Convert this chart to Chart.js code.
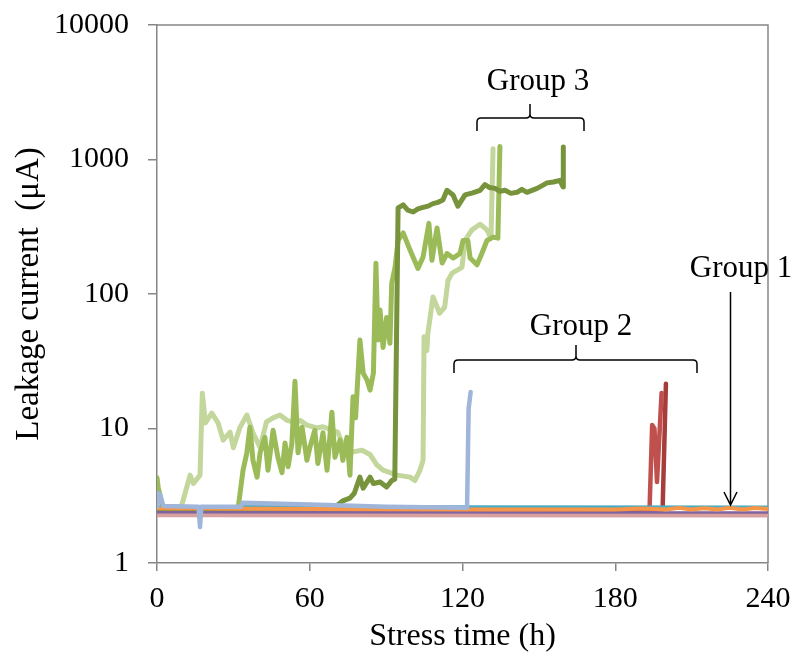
<!DOCTYPE html>
<html>
<head>
<meta charset="utf-8">
<title>Leakage current vs stress time</title>
<script src="https://cdn.jsdelivr.net/npm/chart.js@4.4.1/dist/chart.umd.min.js"></script>
<style>
  html, body { margin: 0; padding: 0; background: #fff; }
  #wrap { width: 798px; height: 664px; }
</style>
</head>
<body>
<div id="wrap"><canvas id="leakage"></canvas></div>
<script>
// stress time (h) and leakage current (uA) for each device
const lightGreenHours = [0, 2, 5, 9, 10.3, 13, 14.3, 16.9, 17.8, 19, 21.5, 24, 26, 28.7, 30, 32.6, 35.3, 37.7, 40.5, 43, 45.6, 48.3, 51, 53.4, 56.2, 58.9, 62.8, 65.2, 68.7, 71, 73.8, 77, 80.5, 83.7, 86.4, 88.8, 94.3, 99.4, 101.3, 103.3, 104.5, 104.9, 106, 106.4, 108.4, 111, 113, 114.3, 115.9, 117.8, 119.8, 121, 123.7, 126.9, 129.6, 131.2, 132]
const lightGreenValues = [2.6, 2.45, 2.4, 2.45, 2.94, 4.5, 3.9, 4.5, 18.3, 11, 13, 11, 8.2, 9.4, 7.2, 10.2, 12.6, 9.3, 7.2, 11.2, 12, 12.6, 11.5, 11.2, 11.5, 10.6, 10.1, 10.3, 9.7, 9.4, 6.9, 6.7, 6.9, 6.4, 5.35, 4.9, 4.5, 4.35, 4.1, 4.9, 5.8, 48, 38, 51, 95, 72, 80, 126, 143, 150, 158, 250, 300, 330, 300, 260, 1200]

const midGreenHours = [0, 0.5, 2.5, 31.8, 33.8, 35.3, 36.5, 37.7, 39.3, 40.5, 42.4, 43.6, 45.6, 47.5, 49.1, 50.3, 51.5, 53, 54.2, 55.4, 57, 58.9, 60.1, 62, 63.2, 65.2, 66.8, 68.7, 69.9, 71.9, 73, 74.6, 75.8, 77, 78, 79.7, 81, 82.5, 83.7, 85, 86, 86.8, 87.6, 88.8, 90.2, 91.5, 92.2, 93.5, 94.7, 96.7, 99.4, 102.5, 104.5, 106.8, 108, 110, 112, 113.9, 116.3, 119, 120.2, 122.1, 123, 125.7, 127.6, 129.6, 132, 133.9, 134.7]
const midGreenValues = [4.3, 3.6, 2.5, 2.5, 4.9, 6.6, 10.2, 5.8, 4.35, 6.6, 8.6, 4.9, 9.7, 6.1, 4.7, 7.8, 5.2, 7.8, 22.5, 6.6, 10.2, 5.8, 7.3, 9.7, 5.5, 9.3, 4.9, 13.2, 6.1, 8.2, 5.8, 8.6, 4.5, 17.2, 12, 45.5, 25.8, 22.9, 19.3, 25.8, 169, 45.5, 76, 40, 67, 43, 120, 158, 250, 285, 212, 155, 188, 335, 178, 310, 170, 200, 185, 200, 250, 250, 185, 165, 200, 250, 265, 260, 1250]

const darkGreenHours = [0, 70, 71, 73, 75.8, 77.5, 79.7, 81, 83.7, 85, 87.6, 90.2, 92.2, 93.4, 94.7, 96.7, 98.5, 100.6, 102.5, 104.5, 106.5, 108.4, 110.3, 112.3, 113.9, 116.3, 118.2, 121, 124, 126.9, 128.8, 130.5, 132.8, 134.7, 136.7, 139, 141.4, 143.3, 145.3, 147.3, 149.3, 151.3, 153.2, 155.7, 158.3, 159.5, 159.6]
const darkGreenValues = [2.5, 2.5, 2.7, 2.9, 3.04, 3.3, 4.35, 3.6, 4.35, 3.9, 4.0, 3.67, 4.1, 4.2, 437, 460, 420, 407, 430, 440, 450, 470, 480, 500, 590, 545, 450, 545, 565, 590, 650, 620, 610, 580, 590, 560, 570, 600, 570, 590, 610, 640, 670, 680, 700, 625, 1240]

const blueHours = [0, 0.6, 1.3, 2.5, 16.3, 16.9, 17.4, 32.8, 33.6, 60, 90, 121.8, 122.4, 123.2]
const blueValues = [2.6, 3.3, 3.2, 2.65, 2.62, 1.85, 2.62, 2.62, 2.8, 2.72, 2.62, 2.58, 14, 18.7]

const redHours = [0, 191.5, 193.5, 194.5, 195.4, 196.4, 198.2]
const redValues = [2.5, 2.5, 2.6, 10.6, 10, 4.0, 18.4]
const darkRedHours = [0, 198.6, 199.9]
const darkRedValues = [2.5, 2.5, 21.5]

const orangeHours = [0, 60, 120, 180, 190, 200, 205, 210, 215, 220, 225, 230, 235, 240]
const orangeValues = [2.55, 2.52, 2.5, 2.5, 2.54, 2.5, 2.57, 2.5, 2.55, 2.5, 2.57, 2.5, 2.56, 2.52]
const tealHours = [0, 240]
const tealValues = [2.62, 2.6]
const purpleHours = [0, 240]
const purpleValues = [2.38, 2.37]
const pinkHours = [0, 240]
const pinkValues = [2.28, 2.27]

const xTicks = [0, 60, 120, 180, 240]
const yTicks = [1, 10, 100, 1000, 10000]

const serif = '"Liberation Serif", "Times New Roman", serif'
const axisGray = '#868686'

function series(hours, values, color, width) {
  return {
    data: hours.map((h, i) => ({ x: h, y: values[i] })),
    borderColor: color,
    borderWidth: width,
    borderJoinStyle: 'round',
    borderCapStyle: 'round',
    pointRadius: 0,
    tension: 0,
    fill: false
  }
}

// first dataset is painted last, so it ends up on top
const datasets = [
  series(blueHours, blueValues, '#9fb5d9', 4.5),
  series(orangeHours, orangeValues, '#f79646', 4),
  series(tealHours, tealValues, '#4bacc6', 3.5),
  series(purpleHours, purpleValues, '#7f64a0', 2.5),
  series(pinkHours, pinkValues, '#d9a0a0', 5),
  series(darkGreenHours, darkGreenValues, '#77933c', 5),
  series(midGreenHours, midGreenValues, '#9bbb59', 5),
  series(lightGreenHours, lightGreenValues, '#c3d69b', 5),
  series(redHours, redValues, '#c0504d', 4.5),
  series(darkRedHours, darkRedValues, '#a63d3a', 4.5)
]

// plot frame plus the group brackets and labels
const decorations = {
  id: 'decorations',
  beforeDatasetsDraw(chart) {
    const { ctx, chartArea: a } = chart
    ctx.save()
    ctx.strokeStyle = axisGray
    ctx.lineWidth = 1.5
    ctx.beginPath()
    ctx.moveTo(a.left, a.top)
    ctx.lineTo(a.right, a.top)
    ctx.lineTo(a.right, a.bottom)
    ctx.stroke()
    ctx.restore()
  },
  afterDatasetsDraw(chart) {
    const ctx = chart.ctx
    ctx.save()
    ctx.strokeStyle = '#000'
    ctx.fillStyle = '#000'
    ctx.lineWidth = 1.5
    ctx.font = '31px ' + serif
    ctx.textAlign = 'center'
    ctx.textBaseline = 'alphabetic'

    ctx.fillText('Group 3', 538, 90)
    brace(ctx, 477, 584, 118, 131, 530, 104)

    ctx.fillText('Group 2', 581, 335)
    brace(ctx, 454, 697, 360, 373, 576, 345)

    ctx.fillText('Group 1', 741, 277)
    ctx.beginPath()
    ctx.moveTo(730.5, 292)
    ctx.lineTo(730.5, 505)
    ctx.moveTo(724, 492)
    ctx.lineTo(730.5, 505)
    ctx.lineTo(737, 492)
    ctx.stroke()
    ctx.restore()
  }
}

function brace(ctx, x0, x1, y, yEnd, xm, yTop) {
  const r = 4
  ctx.beginPath()
  ctx.moveTo(x0, yEnd)
  ctx.lineTo(x0, y + r)
  ctx.quadraticCurveTo(x0, y, x0 + r, y)
  ctx.lineTo(xm - r, y)
  ctx.quadraticCurveTo(xm, y, xm, y - r)
  ctx.lineTo(xm, yTop)
  ctx.moveTo(xm, y - r)
  ctx.quadraticCurveTo(xm, y, xm + r, y)
  ctx.lineTo(x1 - r, y)
  ctx.quadraticCurveTo(x1, y, x1, y + r)
  ctx.lineTo(x1, yEnd)
  ctx.stroke()
}

new Chart(document.getElementById('leakage'), {
  type: 'line',
  data: { datasets: datasets },
  options: {
    responsive: true,
    maintainAspectRatio: false,
    animation: false,
    events: [],
    layout: { autoPadding: false, padding: { top: 25, right: 30, bottom: 0, left: 0 } },
    plugins: { legend: { display: false }, tooltip: { enabled: false } },
    scales: {
      x: {
        type: 'linear',
        min: 0,
        max: 240,
        afterFit: s => { s.height = 101; s.paddingLeft = 0; s.paddingRight = 0 },
        afterBuildTicks: s => { s.ticks = xTicks.map(v => ({ value: v })) },
        ticks: { font: { family: serif, size: 30 }, color: '#000', padding: 10, maxRotation: 0 },
        grid: { drawOnChartArea: false, tickLength: 8, color: axisGray, lineWidth: 1.5 },
        border: { color: axisGray, width: 1.5 },
        title: { display: true, text: 'Stress time (h)', font: { family: serif, size: 32 }, color: '#000', padding: { top: 0, bottom: 8 } }
      },
      y: {
        type: 'logarithmic',
        min: 1,
        max: 10000,
        afterFit: s => { s.width = 157; s.paddingTop = 0; s.paddingBottom = 0 },
        afterBuildTicks: s => { s.ticks = yTicks.map(v => ({ value: v })) },
        ticks: { font: { family: serif, size: 30 }, color: '#000', padding: 19, callback: v => String(v) },
        grid: { drawOnChartArea: false, tickLength: 9, color: axisGray, lineWidth: 1.5 },
        border: { color: axisGray, width: 1.5 },
        title: { display: true, text: 'Leakage current  (μA)', font: { family: serif, size: 33 }, color: '#000', padding: { top: 10, bottom: 0 } }
      }
    }
  },
  plugins: [decorations]
})
</script>
</body>
</html>
